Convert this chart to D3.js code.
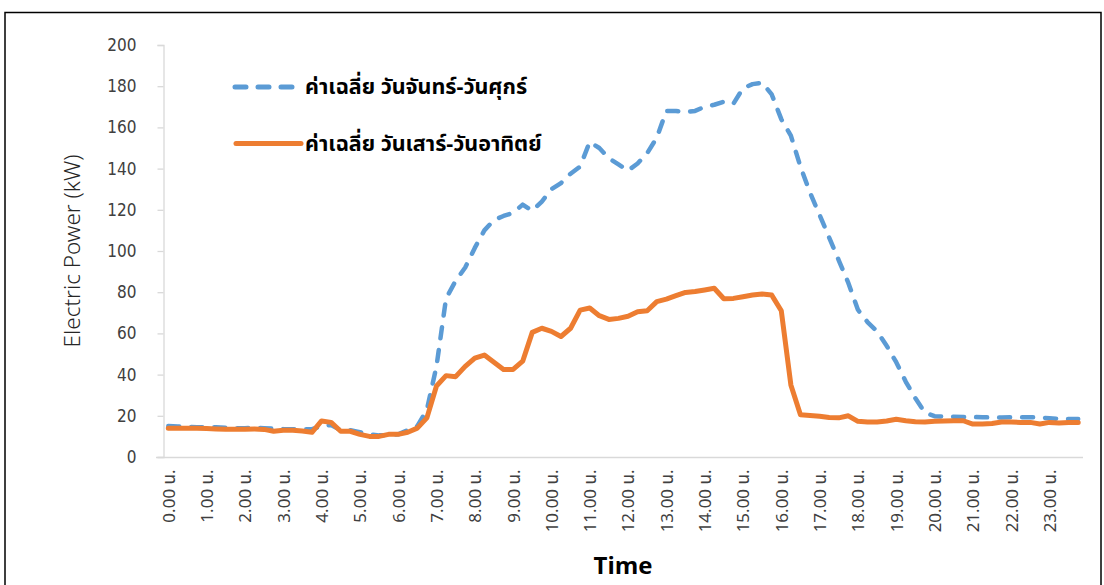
<!DOCTYPE html>
<html>
<head>
<meta charset="utf-8">
<script src="https://cdn.jsdelivr.net/npm/d3@7"></script>
<style>
  html, body { margin: 0; padding: 0; background: #fff; }
  svg { display: block; }
  text { font-family: "Noto Sans Thai", "Noto Sans", "DejaVu Sans", sans-serif; }
</style>
</head>
<body>
<svg id="chart" width="1104" height="585"></svg>
<script>
// ---- data (15-minute intervals, 96 points) ----
const hourLabels = ["0.00 น.","1.00 น.","2.00 น.","3.00 น.","4.00 น.","5.00 น.","6.00 น.","7.00 น.","8.00 น.","9.00 น.","10.00 น.","11.00 น.",
  "12.00 น.","13.00 น.","14.00 น.","15.00 น.","16.00 น.","17.00 น.","18.00 น.","19.00 น.","20.00 น.","21.00 น.","22.00 น.","23.00 น."];
const seriesNames = ["ค่าเฉลี่ย วันจันทร์-วันศุกร์", "ค่าเฉลี่ย วันเสาร์-วันอาทิตย์"];
const weekday = [
  15, 14.8, 14.6, 14.5, 14.5, 14.4, 14.2, 14, 14, 14.2, 14, 13.8, 13.6, 13.5, 13.5, 13.5,
  15, 15.5, 13, 13, 12, 11, 10.5, 10.5, 11, 13, 15, 23, 44, 77, 85.5, 92,
  101.5, 110, 115, 117, 118.5, 122.5, 119.5, 124, 130, 133, 137.5, 141, 153, 150, 145, 142,
  139, 142.5, 147.5, 155, 168, 168, 167.5, 168, 170, 171, 172.5, 171.5, 179, 181, 181.7, 176,
  164, 156, 141, 128.3, 117.5, 106.5, 95.5, 84.5, 71.5, 65.5, 61, 54, 46, 36.5, 28.5, 21.5,
  19.8, 19.6, 19.5, 19.4, 19.4, 19.3, 19.2, 19.2, 19.3, 19.3, 19.3, 19.2, 18.8, 18.5, 18.5, 18.5
];
const weekend = [
  14, 14, 14, 14, 13.8, 13.6, 13.5, 13.5, 13.5, 13.6, 13.4, 12.5, 13, 13, 12.6, 12,
  17.5, 16.8, 12.5, 12.5, 11, 10, 10, 11, 11, 12, 14, 19, 34.5, 39.5, 39, 44,
  48, 49.5, 46, 42.5, 42.5, 46.5, 60.5, 62.5, 61, 58.5, 62.5, 71.3, 72.3, 68.6, 66.8, 67.3,
  68.3, 70.5, 71, 75.4, 76.6, 78.3, 79.9, 80.3, 81.1, 81.9, 76.8, 77, 77.8, 78.6, 79.1, 78.6,
  71, 35, 20.5, 20.2, 19.8, 19.2, 19, 20, 17.3, 17, 17, 17.5, 18.3, 17.6, 17.1, 17,
  17.3, 17.5, 17.6, 17.6, 16, 16, 16.3, 17, 17, 16.8, 16.8, 16, 16.8, 16.5, 16.8, 16.8
];
const yTicks = [0, 20, 40, 60, 80, 100, 120, 140, 160, 180, 200];

// ---- layout ----
const svg = d3.select("#chart");
const idx = d3.range(weekday.length);
const x = d3.scalePoint().domain(idx).range([163.5, 1083]).padding(0.5);
const y = d3.scaleLinear().domain([0, 200]).range([457, 45]);

// chart frame
svg.append("rect").attr("x", 5).attr("y", 12.5).attr("width", 1096).attr("height", 590)
  .attr("fill", "#fff").attr("stroke", "#000").attr("stroke-width", 1.5);

// y axis
const yAxis = svg.append("g").attr("transform", "translate(163.5,0)")
  .call(d3.axisLeft(y).tickValues(yTicks).tickSize(6).tickPadding(21).tickFormat(d3.format("d")));
yAxis.select(".domain").attr("stroke", "#d9d9d9").attr("stroke-width", 1.3);
yAxis.selectAll(".tick line").attr("stroke", "#d9d9d9").attr("stroke-width", 1.3);
yAxis.selectAll(".tick text").attr("fill", "#404040").style("font-size", "17px")
  .style("font-family", "'Liberation Sans Narrow', 'DejaVu Sans Condensed', sans-serif");

// x axis
const xAxis = svg.append("g").attr("transform", "translate(0,457.5)")
  .call(d3.axisBottom(x).tickValues(idx.filter(i => i % 4 === 0)).tickSize(0).tickSizeOuter(0)
    .tickFormat(i => hourLabels[i / 4]));
xAxis.select(".domain").attr("d", "M156,0H1083").attr("stroke", "#d9d9d9").attr("stroke-width", 1.6);
xAxis.selectAll(".tick text")
  .attr("transform", "rotate(-90)")
  .attr("text-anchor", "end")
  .attr("x", -12).attr("y", 0).attr("dy", "0.35em")
  .attr("fill", "#404040").style("font-size", "17px");

// axis titles
svg.append("text").attr("transform", "translate(80,251) rotate(-90)").attr("text-anchor", "middle")
  .style("font-size", "22.5px").style("font-weight", "300").attr("fill", "#262626").text("Electric Power (kW)");
svg.append("text").attr("x", 623).attr("y", 574).attr("text-anchor", "middle")
  .style("font-size", "24px").style("font-weight", "bold").attr("fill", "#000").text("Time");

// lines
const line = d3.line().x((d, i) => x(i)).y(d => y(d));
svg.append("path").datum(weekday).attr("d", line).attr("fill", "none")
  .attr("stroke", "#5B9BD5").attr("stroke-width", 4.5).attr("stroke-dasharray", "11,12")
  .attr("stroke-linecap", "round").attr("stroke-linejoin", "round");
svg.append("path").datum(weekend).attr("d", line).attr("fill", "none")
  .attr("stroke", "#ED7D31").attr("stroke-width", 5)
  .attr("stroke-linecap", "round").attr("stroke-linejoin", "round");

// legend
const legend = svg.append("g");
legend.append("line").attr("x1", 235).attr("x2", 293).attr("y1", 87).attr("y2", 87)
  .attr("stroke", "#5B9BD5").attr("stroke-width", 5).attr("stroke-dasharray", "11,12")
  .attr("stroke-linecap", "round");
legend.append("line").attr("x1", 236).attr("x2", 301).attr("y1", 143.5).attr("y2", 143.5)
  .attr("stroke", "#ED7D31").attr("stroke-width", 5).attr("stroke-linecap", "round");
legend.append("text").attr("x", 305).attr("y", 94).style("font-size", "21.5px").style("font-weight", "bold")
  .attr("fill", "#000").text(seriesNames[0]);
legend.append("text").attr("x", 305).attr("y", 151).style("font-size", "21.5px").style("font-weight", "bold")
  .attr("fill", "#000").text(seriesNames[1]);
</script>
</body>
</html>
